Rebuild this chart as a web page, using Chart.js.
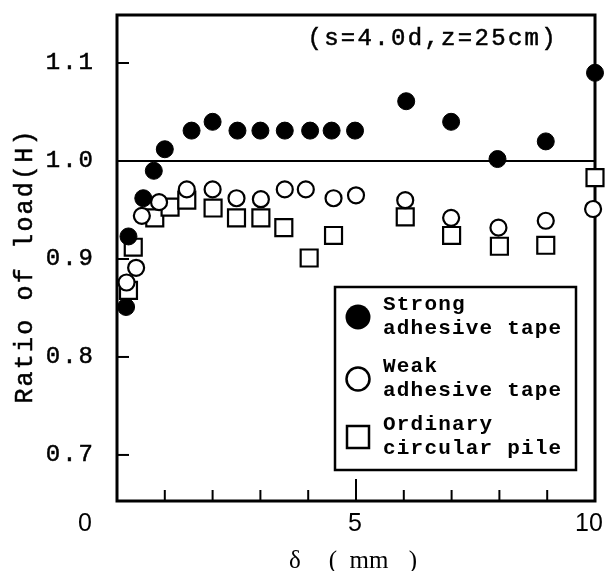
<!DOCTYPE html>
<html>
<head>
<meta charset="utf-8">
<script src="https://cdn.jsdelivr.net/npm/chart.js@4/dist/chart.umd.min.js"></script>
<style>
  body { margin: 0; background: #fff; }
  #wrap { width: 610px; height: 571px; }
</style>
</head>
<body>
<div id="wrap"><canvas id="miGrafico" width="610" height="571"></canvas></div>
<script>
// data
let strong_x = [0.19, 0.24, 0.55, 0.77, 1.0, 1.56, 2.0, 2.52, 3.0, 3.51, 4.04, 4.49, 4.98, 6.05, 6.99, 7.96, 8.97, 10];
let strong_y = [0.851, 0.923, 0.962, 0.99, 1.012, 1.031, 1.040, 1.031, 1.031, 1.031, 1.031, 1.031, 1.031, 1.061, 1.040, 1.002, 1.020, 1.09];

let weak_x = [0.2, 0.40, 0.52, 0.88, 1.46, 2.0, 2.5, 3.01, 3.51, 3.95, 4.53, 5.0, 6.03, 6.99, 7.98, 8.97, 9.96];
let weak_y = [0.876, 0.891, 0.944, 0.958, 0.971, 0.971, 0.962, 0.961, 0.971, 0.971, 0.962, 0.965, 0.96, 0.942, 0.932, 0.939, 0.951];

let ordinary_x = [0.24, 0.34, 0.79, 1.11, 1.46, 2.01, 2.5, 3.01, 3.49, 4.02, 4.53, 6.03, 7.0, 8.0, 8.97, 10];
let ordinary_y = [0.868, 0.912, 0.942, 0.953, 0.96, 0.952, 0.942, 0.942, 0.932, 0.901, 0.924, 0.943, 0.924, 0.913, 0.914, 0.983];

let x_minor_ticks = [1, 2, 3, 4, 6, 7, 8, 9];
let x_major_ticks = [5];
let x_labels = [0, 5, 10];
let y_ticks = [0.7, 0.8, 0.9, 1.1];
let y_labels = ['0.7', '0.8', '0.9', '1.0', '1.1'];
let ref_line = 1.0;

let legend_lines = [
    ['Strong', 'adhesive tape'],
    ['Weak', 'adhesive tape'],
    ['Ordinary', 'circular pile']
];
let note = '(s=4.0d,z=25cm)';

function pares(xs, ys) {
    return xs.map((x, i) => ({ x: x, y: ys[i] }));
}

function texto(ctx, str, x, y, font, spacing, align, grueso) {
    ctx.save();
    ctx.font = font;
    ctx.letterSpacing = spacing + 'px';
    ctx.textAlign = align || 'left';
    ctx.textBaseline = 'middle';
    ctx.fillStyle = '#000';
    ctx.fillText(str, x, y);
    if (grueso) {
        // scanned typewriter text looks heavier
        ctx.strokeStyle = '#000';
        ctx.lineWidth = grueso;
        ctx.strokeText(str, x, y);
    }
    ctx.restore();
}

const marco = {
    id: 'marco',
    beforeDatasetsDraw(chart) {
        const ctx = chart.ctx;
        const a = chart.chartArea;
        const sx = chart.scales.x, sy = chart.scales.y;
        ctx.save();
        ctx.strokeStyle = '#000';
        // reference line at 1.0
        ctx.lineWidth = 2;
        ctx.beginPath();
        ctx.moveTo(a.left, sy.getPixelForValue(ref_line));
        ctx.lineTo(a.right, sy.getPixelForValue(ref_line));
        ctx.stroke();
        // ticks inward
        ctx.lineWidth = 2;
        y_ticks.forEach(v => {
            const p = sy.getPixelForValue(v);
            ctx.beginPath(); ctx.moveTo(a.left, p); ctx.lineTo(a.left + 12, p); ctx.stroke();
        });
        x_minor_ticks.forEach(v => {
            const p = sx.getPixelForValue(v);
            ctx.beginPath(); ctx.moveTo(p, a.bottom); ctx.lineTo(p, a.bottom - 11); ctx.stroke();
        });
        x_major_ticks.forEach(v => {
            const p = sx.getPixelForValue(v);
            ctx.beginPath(); ctx.moveTo(p, a.bottom); ctx.lineTo(p, a.bottom - 22); ctx.stroke();
        });
        // frame
        ctx.lineWidth = 3;
        ctx.strokeRect(a.left, a.top, a.right - a.left, a.bottom - a.top);
        ctx.restore();
    },
    afterDraw(chart) {
        const ctx = chart.ctx;
        const a = chart.chartArea;
        const sx = chart.scales.x, sy = chart.scales.y;
        const mono = 'Liberation Mono';

        // y tick labels
        y_labels.forEach(s => {
            texto(ctx, s, a.left - 22, sy.getPixelForValue(parseFloat(s)), '24px "' + mono + '"', 2, 'right', 0.5);
        });
        // x tick labels
        const offs = { 0: -32, 5: -1, 10: -6 };
        x_labels.forEach(v => {
            texto(ctx, String(v), sx.getPixelForValue(v) + offs[v], a.bottom + 23, '25px "Liberation Sans"', 0, 'center');
        });
        // y title
        ctx.save();
        ctx.translate(25, 266);
        ctx.rotate(-Math.PI / 2);
        texto(ctx, 'Ratio of load(H)', 0, 0, '25px "' + mono + '"', 2.2, 'center', 0.5);
        ctx.restore();
        // x title
        const cx = sx.getPixelForValue(5);
        const ty = a.bottom + 60;
        const serif = '25px "Liberation Serif"';
        texto(ctx, 'δ', cx - 61, ty, serif, 0, 'center');
        texto(ctx, '(', cx - 23, ty, serif, 0, 'center');
        texto(ctx, 'mm', cx + 13, ty, serif, 0, 'center');
        texto(ctx, ')', cx + 57, ty, serif, 0, 'center');
        // note
        texto(ctx, note, a.right - 37, 39, '24px "' + mono + '"', 2.3, 'right', 0.5);

        // legend
        const lx = 335, ly = 287, lw = 241, lh = 183;
        ctx.save();
        ctx.fillStyle = '#fff';
        ctx.fillRect(lx, ly, lw, lh);
        ctx.lineWidth = 2.5;
        ctx.strokeStyle = '#000';
        ctx.strokeRect(lx, ly, lw, lh);
        const rows = [30, 92, 150];
        chart.data.datasets.forEach((ds, i) => {
            const my = ly + rows[i];
            const mx = lx + 23;
            ctx.beginPath();
            ctx.lineWidth = 2.5;
            if (ds.pointStyle === 'rect') {
                ctx.rect(mx - 11, my - 11, 22, 22);
                ctx.stroke();
            } else if (i === 0) {
                ctx.arc(mx, my, 12.5, 0, Math.PI * 2);
                ctx.fillStyle = '#000';
                ctx.fill();
            } else {
                ctx.arc(mx, my, 11.5, 0, Math.PI * 2);
                ctx.stroke();
            }
            const lines = legend_lines[i];
            texto(ctx, lines[0], lx + 48, my - 12, 'bold 21px "' + mono + '"', 1.2, 'left');
            texto(ctx, lines[1], lx + 48, my + 12, 'bold 21px "' + mono + '"', 1.2, 'left');
        });
        ctx.restore();
    }
};

const ctx = document.getElementById('miGrafico').getContext('2d');
const miGrafico = new Chart(ctx, {
    type: 'scatter',
    data: {
        datasets: [{
            label: 'Strong adhesive tape',
            data: pares(strong_x, strong_y),
            pointStyle: 'circle',
            pointRadius: 8.5,
            backgroundColor: '#000',
            borderColor: '#000',
            borderWidth: 1,
            clip: false
        }, {
            label: 'Weak adhesive tape',
            data: pares(weak_x, weak_y),
            pointStyle: 'circle',
            pointRadius: 8,
            backgroundColor: '#fff',
            borderColor: '#000',
            borderWidth: 2.2,
            clip: false
        }, {
            label: 'Ordinary circular pile',
            data: pares(ordinary_x, ordinary_y),
            pointStyle: 'rect',
            pointRadius: 12,
            backgroundColor: '#fff',
            borderColor: '#000',
            borderWidth: 2.2,
            clip: false
        }]
    },
    options: {
        responsive: false,
        animation: false,
        events: [],
        layout: { padding: { left: 117, top: 15, right: 15, bottom: 70 } },
        plugins: { legend: { display: false }, tooltip: { enabled: false } },
        scales: {
            x: { type: 'linear', min: 0, max: 10, display: false },
            y: { type: 'linear', min: 0.653, max: 1.149, display: false }
        }
    },
    plugins: [marco]
});
</script>
</body>
</html>
